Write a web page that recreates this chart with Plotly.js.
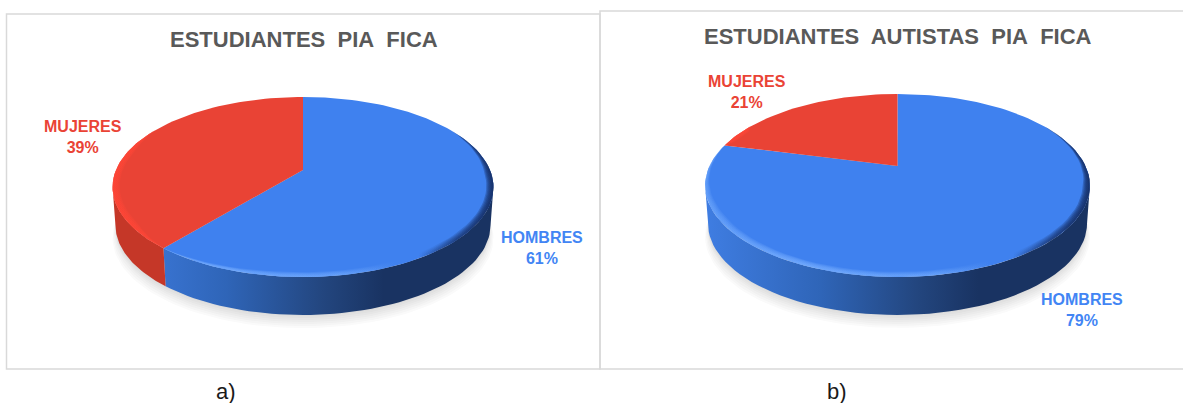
<!DOCTYPE html>
<html><head><meta charset="utf-8">
<script src="https://cdn.plot.ly/plotly-3.0.1.min.js"></script>
<style>html,body{margin:0;padding:0;background:#fff}#c{width:1183px;height:403px}</style>
</head><body><div id="c"></div>
<script>
// ---- data ----
const categories = ["HOMBRES", "MUJERES"];
const valuesA = [61, 39];
const valuesB = [79, 21];
const titleA = "ESTUDIANTES\u00a0 PIA\u00a0 FICA";
const titleB = "ESTUDIANTES\u00a0 AUTISTAS\u00a0 PIA\u00a0 FICA";
const captions = ["a)", "b)"];

// ---- styling ----
const BLUE = "#3f81ef", RED = "#e94335", BLUETXT = "#4285f4", REDTXT = "#ea4335";
const panels = [
  {vals: valuesA, cx: 303, cy: 170, R: 187, s: 86.8, k: 0.189, depth: 38},
  {vals: valuesB, cx: 897.5, cy: 166, R: 188, s: 87.3, k: 0.213, depth: 38}
];
const rad = Math.PI / 180;

function proj(p, t, r) {
  const u = r * Math.sin(t * rad), v = r * Math.cos(t * rad);
  const w = 1 + p.k * v;
  return [p.cx + p.R * u / w, p.cy - p.s * v / w];
}
function steps(a, b, n) { const o = []; for (let i = 0; i <= n; i++) o.push(a + (b - a) * i / n); return o; }
function poly(pts) { return {x: pts.map(q => q[0]), y: pts.map(q => q[1])}; }
function fillTrace(pts, extra) {
  return Object.assign(poly(pts), {type: "scatter", mode: "lines", fill: "toself",
    line: {width: 0}, hoverinfo: "skip", showlegend: false}, extra);
}

const traces = [];
panels.forEach(p => {
  const total = p.vals[0] + p.vals[1];
  const split = p.vals[0] / total * 360;          // blue runs clockwise from the top
  const tR = Math.acos(-p.k) / rad, tL = 360 - tR;   // silhouette of the disc
  const all = steps(0, 360, 180);
  const bot = t => { const q = proj(p, t, 1); return [p.cx + (q[0] - p.cx) * 0.985, q[1] + p.depth]; };

  // soft ground shadow
  [[15, 1.0], [13, 0.995], [11, 0.99], [9, 0.985], [7, 0.985], [5, 0.985], [3, 0.985]].forEach(([d, sx]) => {
    const pts = all.map(t => { const q = proj(p, t, 1); return [p.cx + (q[0] - p.cx) * sx, q[1] + p.depth + d - 2]; });
    traces.push(fillTrace(pts, {fillcolor: "rgba(60,60,60,0.024)"}));
  });

  // outer wall
  const wall = (a, b, extra) => {
    const ts = steps(a, b, 60);
    traces.push(fillTrace(ts.map(t => proj(p, t, 1)).concat(ts.slice().reverse().map(bot)), extra));
  };
  const blueGrad = {type: "horizontal", start: p.cx - 192, stop: p.cx + 192,
    colorscale: [[0, "#3f7de2"], [0.3, "#2f65b8"], [0.55, "#23467f"], [0.71, "#193362"], [1, "#193362"]]};
  wall(tR, Math.min(split, tL), {fillcolor: "#23467f", fillgradient: blueGrad});
  if (split < tL) wall(split, tL, {fillcolor: "#c53728"});

  // top face
  const slice = (a, b, col) => {
    const ts = steps(a, b, Math.ceil((b - a) / 2));
    const q = ts.map(t => proj(p, t, 1));
    q.push([p.cx, p.cy]);
    traces.push(fillTrace(q, {fillcolor: col}));
  };
  slice(0, split, BLUE);
  slice(split, 360, RED);

  // bevel along the rim
  const bevel = (a, b, grad, w) => {
    const ts = steps(a, b, 70);
    const n = ts.length - 1;
    const outer = ts.map(t => proj(p, t, 1));
    const inner = ts.map((t, i) => {
      const taper = Math.min(1, Math.min(i, n - i) / 14);
      return proj(p, t, 1 - w * taper);
    }).reverse();
    traces.push(fillTrace(outer.concat(inner), {fillcolor: "rgba(0,0,0,0)", fillgradient: grad}));
  };
  const blueBevel = {type: "horizontal", start: p.cx - 192, stop: p.cx + 192,
    colorscale: [[0, "rgba(120,175,255,0.14)"], [0.25, "rgba(120,175,255,0.24)"], [0.6, "rgba(120,175,255,0.16)"],
      [0.74, "rgba(120,175,255,0)"], [0.8, "rgba(20,45,100,0)"], [0.9, "rgba(20,45,100,0.2)"], [1, "rgba(20,45,100,0.36)"]]};
  const redBevel = {type: "horizontal", start: p.cx - 192, stop: p.cx + 192,
    colorscale: [[0, "rgba(255,70,55,0.3)"], [1, "rgba(255,70,55,0.3)"]]};
  [0.036, 0.03, 0.024, 0.018, 0.012, 0.006].forEach(w => {
    bevel(60, Math.min(split, 300), blueBevel, w);
    if (split < 300) bevel(split, 300, redBevel, w);
  });
});

// ---- annotations ----
const FONT = "Liberation Sans, Arial, sans-serif";
const lab = (name, val, x, y, col) => ({
  text: `<b>${name}<br>${val}%</b>`, x, y, xref: "x", yref: "y", showarrow: false,
  xanchor: "center", yanchor: "middle", align: "center",
  font: {family: FONT, size: 16, color: col}
});
const ttl = (text, x, y) => ({
  text: `<b>${text}</b>`, x, y, xref: "x", yref: "y", showarrow: false, xanchor: "center", yanchor: "middle",
  font: {family: FONT, size: 22, color: "#595959"}
});
const cap = (text, x, y) => ({
  text, x, y, xref: "x", yref: "y", showarrow: false, xanchor: "center", yanchor: "middle",
  font: {family: FONT, size: 22, color: "#1a1a1a"}
});
const annotations = [
  ttl(titleA, 303.5, 39), ttl(titleB, 898, 36),
  lab(categories[1], valuesA[1], 83, 137, REDTXT), lab(categories[0], valuesA[0], 542, 248, BLUETXT),
  lab(categories[1], valuesB[1], 747, 92, REDTXT), lab(categories[0], valuesB[0], 1082, 310, BLUETXT),
  cap(captions[0], 226, 391), cap(captions[1], 837, 391)
];
const border = {color: "#d9d9d9", width: 1.5};
const shapes = [
  {type: "rect", xref: "x", yref: "y", x0: 6.5, x1: 600, y0: 14, y1: 369, line: border},
  {type: "rect", xref: "x", yref: "y", x0: 600, x1: 1190, y0: 11, y1: 369, line: border}
];

const hidden = {visible: false, fixedrange: true};
Plotly.newPlot("c", traces, {
  width: 1183, height: 403, margin: {l: 0, r: 0, t: 0, b: 0},
  paper_bgcolor: "#fff", plot_bgcolor: "#fff", showlegend: false,
  xaxis: Object.assign({range: [0, 1183]}, hidden),
  yaxis: Object.assign({range: [403, 0]}, hidden),
  annotations, shapes, hovermode: false
}, {staticPlot: true, displayModeBar: false});
</script></body></html>
